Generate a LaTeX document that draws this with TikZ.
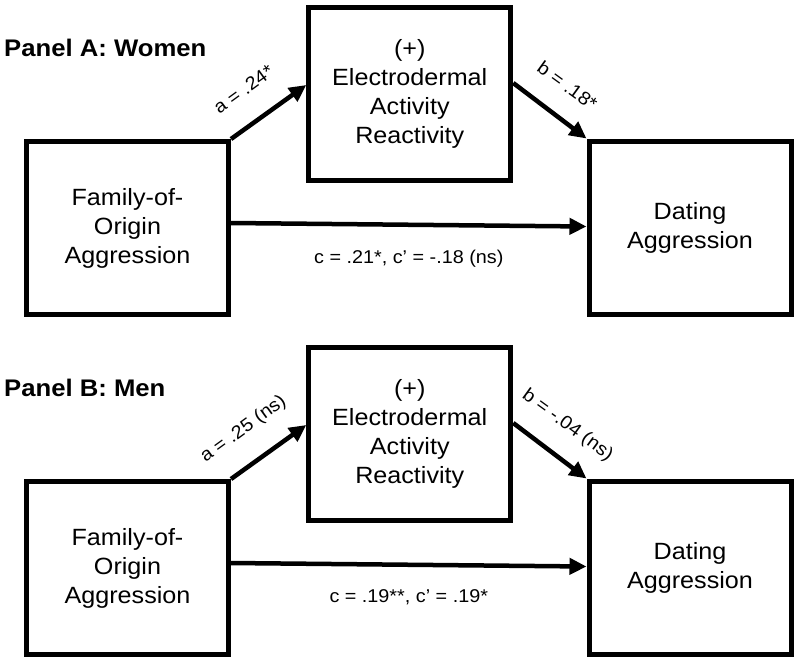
\documentclass[tikz,border=0pt]{standalone}
\usepackage{fontspec}
\setmainfont[FakeStretch=1.07]{Liberation Sans}
\usetikzlibrary{positioning, arrows.meta}

\begin{document}
\begin{tikzpicture}[x=1pt, y=-1pt,
    varbox/.style={draw, line width=5pt, minimum width=202pt, minimum height=173pt,
      align=center, font=\fontsize{23.5}{29}\selectfont},
    pathline/.style={line width=4.5pt, -{Triangle[length=17pt,width=16pt]}},
    coef/.style={font=\fontsize{18.5}{22}\selectfont, inner sep=0pt},
    paneltitle/.style={font=\fontsize{24}{28}\selectfont\bfseries, anchor=base west, inner sep=0pt}]

    \useasboundingbox (0,0) rectangle (800,662);

    % Two panels, one below the other
    \foreach \p/\dy/\title/\acoef/\bcoef/\ccoef in {
        A/0/{Panel A: Women}/{a = .24*}/{b = .18*}/{c = .21*, c’ = -.18 (ns)},
        B/340/{Panel B: Men}/{a = .25 (ns)}/{b = -.04 (ns)}/{c = .19**, c’ = .19*}} {
      % Panel title
      \node[paneltitle] (title\p) at (4,56+\dy) {\title};

      % Draw boxes
      \node[varbox] (fam\p) at (127.5,228+\dy) {Family-of-\\Origin\\Aggression};
      \node[varbox] (eda\p) at (409.75,94+\dy) {(+)\\Electrodermal\\Activity\\Reactivity};
      \node[varbox] (dat\p) at (690,227.5+\dy) {Dating\\Aggression};

      % Draw paths
      \draw[pathline] (fam\p.north east) -- ([yshift=9pt]eda\p.west);
      \draw[pathline] ([yshift=11pt]eda\p.east) -- (dat\p.north west);
      \draw[pathline] ([yshift=5pt]fam\p.east) -- node[coef, midway, below=23pt] (clab\p) {\ccoef} ([yshift=1pt]dat\p.west);

      % Coefficients along the slanted paths
      \node[coef, rotate=36] (alab\p) at (243.5,89.5+\dy) {\acoef};
      \node[coef, rotate=-36] (blab\p) at (567.5,85.5+\dy) {\bcoef};
    }

\end{tikzpicture}
\end{document}
